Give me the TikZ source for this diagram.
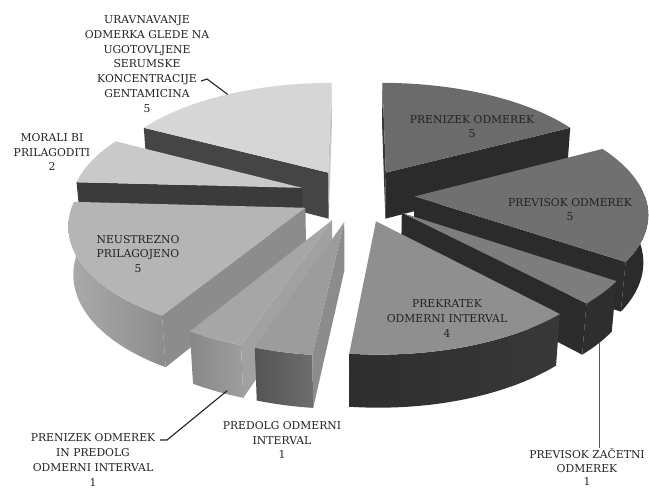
\documentclass[tikz,border=0pt]{standalone}
\usepackage{fontspec}
\setmainfont{DejaVu Serif}
\makeatletter
\tikzset{pie/.cd, b/.store in=\pieB, a/.store in=\pieA, r/.store in=\pieR, z/.store in=\pieZ}
\tikzdeclarecoordinatesystem{pie}{%
  \tikzset{pie/.cd,b=0,a=0,r=0,z=0,#1}%
  \pgfmathsetmacro\pieU{0.25*cos(\pieB)+(\pieR)*cos(\pieA)}%
  \pgfmathsetmacro\pieV{0.25*sin(\pieB)+(\pieR)*sin(\pieA)}%
  \pgfmathsetmacro\pieS{1/(1+0.135*(\pieV)-0.0713*(\pieZ))}%
  \pgfmathsetmacro\pieX{357+230*(\pieU)*(\pieS)}%
  \pgfmathsetmacro\pieY{195-(107.5*(\pieV)+203.3*(\pieZ))*(\pieS)}%
  \pgfpoint{\pieX pt}{-\pieY pt}%
}
\makeatother
% top face: a1, a2, bisector, style
\newcommand\ptop[4]{%
  \path[#4] (pie cs:b=#3,r=0,z=0) \foreach \i in {0,...,40}{ -- (pie cs:b=#3,a={(#1)+((#2)-(#1))*\i/40},r=1,z=0)} -- cycle;}
% outer wall: a1, a2, bisector, style
\newcommand\pwall[4]{%
  \path[#4] (pie cs:b=#3,a=#1,r=1,z=0) \foreach \i in {1,...,40}{ -- (pie cs:b=#3,a={(#1)+((#2)-(#1))*\i/40},r=1,z=0)} \foreach \i in {40,...,0}{ -- (pie cs:b=#3,a={(#1)+((#2)-(#1))*\i/40},r=1,z=-0.235)} -- cycle;}
% radial face: angle, bisector, style
\newcommand\pside[3]{%
  \path[#3] (pie cs:b=#2,r=0,z=0) -- (pie cs:b=#2,a=#1,r=1,z=0) -- (pie cs:b=#2,a=#1,r=1,z=-0.235) -- (pie cs:b=#2,r=0,z=-0.235) -- cycle;}
\definecolor{txt}{HTML}{222222}
\tikzset{
  lbl/.style={text=txt, align=center, inner sep=0pt, font=\fontsize{10.8}{14.8}\selectfont},
  leader/.style={draw=txt, line width=1.1pt},
}
\begin{document}
\begin{tikzpicture}[x=1pt,y=-1pt]
\useasboundingbox[fill=white] (0,0) rectangle (649,488);
% PRENIZEK ODMEREK  [27.931, 90], b=58.966
\pside{90}{58.966}{fill=black!78}
\pside{27.931}{58.966}{fill=black!83}
\ptop{27.931}{90}{58.966}{fill=black!58}
% URAVNAVANJE [-270,-207.931], b=-238.966
\pside{-270}{-238.966}{fill=black!22}
\pside{-207.931}{-238.966}{fill=black!73}
\ptop{-270}{-207.931}{-238.966}{fill=black!16}
% MORALI [-207.931,-183.103], b=-195.517
\pside{-183.103}{-195.517}{fill=black!77}
\ptop{-207.931}{-183.103}{-195.517}{fill=black!21}
% PREVISOK [-34.138, 27.931], b=-3.103
\pwall{-34.138}{0}{-3.103}{fill=black!83}
\pside{-34.138}{-3.103}{fill=black!83}
\ptop{-34.138}{27.931}{-3.103}{fill=black!56}
% NEUSTREZNO [-183.103,-121.034], b=-152.069
\pwall{-183.103}{-121.034}{-152.069}{left color=black!33, right color=black!45}
\pside{-121.034}{-152.069}{fill=black!45}
\ptop{-183.103}{-121.034}{-152.069}{fill=black!29}
% PREVISOK ZACETNI [-46.552,-34.138], b=-40.345
\pwall{-46.552}{-34.138}{-40.345}{fill=black!82}
\pside{-46.552}{-40.345}{fill=black!83}
\ptop{-46.552}{-34.138}{-40.345}{fill=black!51}
% PRENIZEK IN PREDOLG [-121.034,-108.621], b=-114.828
\pwall{-121.034}{-108.621}{-114.828}{left color=black!47, right color=black!38}
\pside{-108.621}{-114.828}{fill=black!37}
\ptop{-121.034}{-108.621}{-114.828}{fill=black!35}
% PREKRATEK [-96.207,-46.552], b=-71.379
\pwall{-96.207}{-46.552}{-71.379}{left color=black!82, right color=black!78}
\ptop{-96.207}{-46.552}{-71.379}{fill=black!44}
% PREDOLG [-108.621,-96.207], b=-102.414
\pwall{-108.621}{-96.207}{-102.414}{left color=black!67, right color=black!57}
\pside{-96.207}{-102.414}{fill=black!45}
\ptop{-108.621}{-96.207}{-102.414}{fill=black!39}

% labels
\node[lbl] (ura) at (147,64) {URAVNAVANJE\\ODMERKA GLEDE NA\\UGOTOVLJENE\\SERUMSKE\\KONCENTRACIJE\\GENTAMICINA\\5};
\node[lbl] (mor) at (52,152) {MORALI BI\\PRILAGODITI\\2};
\node[lbl] (neu) at (138,254) {NEUSTREZNO\\PRILAGOJENO\\5};
\node[lbl] (pni) at (472,126.5) {PRENIZEK ODMEREK\\5};
\node[lbl] (pvo) at (570,209.5) {PREVISOK ODMEREK\\5};
\node[lbl] (pkr) at (447,318.5) {PREKRATEK\\ODMERNI INTERVAL\\4};
\node[lbl] (pdo) at (282,440) {PREDOLG ODMERNI\\INTERVAL\\1};
\node[lbl] (pin) at (93,460) {PRENIZEK ODMEREK\\IN PREDOLG\\ODMERNI INTERVAL\\1};
\node[lbl, font=\fontsize{10.8}{13.6}\selectfont] (pzo) at (587,467) {PREVISOK ZAČETNI\\ODMEREK\\1};

% leaders
\coordinate (uraA) at (201,81);
\coordinate (uraB) at (pie cs:b=-238.966,a=-239,r=1,z=0);
\draw[leader] (uraA) -- ++(6,-2) -- (uraB);
\coordinate (pinA) at (160,440);
\coordinate (pinB) at (pie cs:b=-114.828,a=-113,r=0.98,z=-0.235);
\draw[leader] (pinA) -- ++(7,0) -- (pinB);
\coordinate (pzoA) at (pie cs:b=-40.345,a=-40,r=1,z=-0.235);
\coordinate (pzoB) at (pzoA |- 0,448);
\draw[leader, draw=black!65, line width=1pt] (pzoA) -- (pzoB);
\end{tikzpicture}
\end{document}
